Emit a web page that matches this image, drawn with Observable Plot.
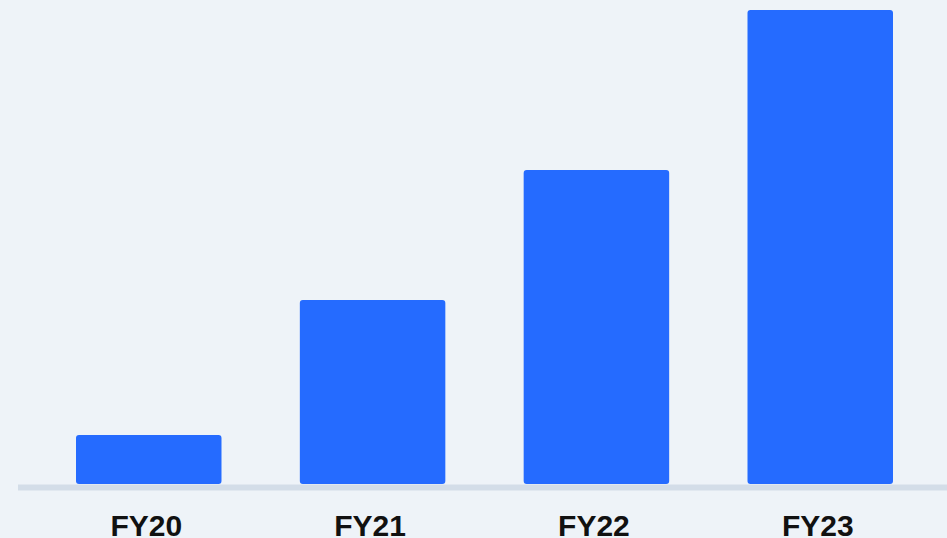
<!DOCTYPE html>
<html>
<head>
<meta charset="utf-8">
<script src="https://cdn.jsdelivr.net/npm/d3@7"></script>
<script src="https://cdn.jsdelivr.net/npm/@observablehq/plot@0.6"></script>
<style>
  html, body { margin: 0; padding: 0; background: #eef3f8; overflow: hidden; }
  #chart svg { display: block; }
</style>
</head>
<body>
<div id="chart"></div>
<script>
const categories = ["FY20", "FY21", "FY22", "FY23"];
const values = [49, 184, 314, 474];

const data = categories.map((c, i) => ({category: c, value: values[i]}));

const chart = Plot.plot({
  width: 947,
  height: 538,
  marginLeft: 76,
  marginRight: 54,
  marginTop: 10,
  marginBottom: 54,
  style: {background: "transparent", fontFamily: "'Liberation Sans', Arial, sans-serif"},
  x: {domain: categories, paddingInner: 0.35, paddingOuter: 0, round: false, axis: null},
  y: {domain: [0, 474], axis: null},
  marks: [
    Plot.barY(data, {x: "category", y: "value", fill: "#256bff", rx: 3}),
    Plot.ruleY([0], {stroke: "#d3dde8", strokeWidth: 6, dy: 3, insetLeft: -58, insetRight: -54}),
    Plot.text(data, {x: "category", y: () => 0, text: "category", dy: 51, dx: -3, lineAnchor: "bottom",
      fontSize: 30, fontWeight: "bold", fill: "#111111"})
  ]
});
document.getElementById("chart").appendChild(chart);
</script>
</body>
</html>
